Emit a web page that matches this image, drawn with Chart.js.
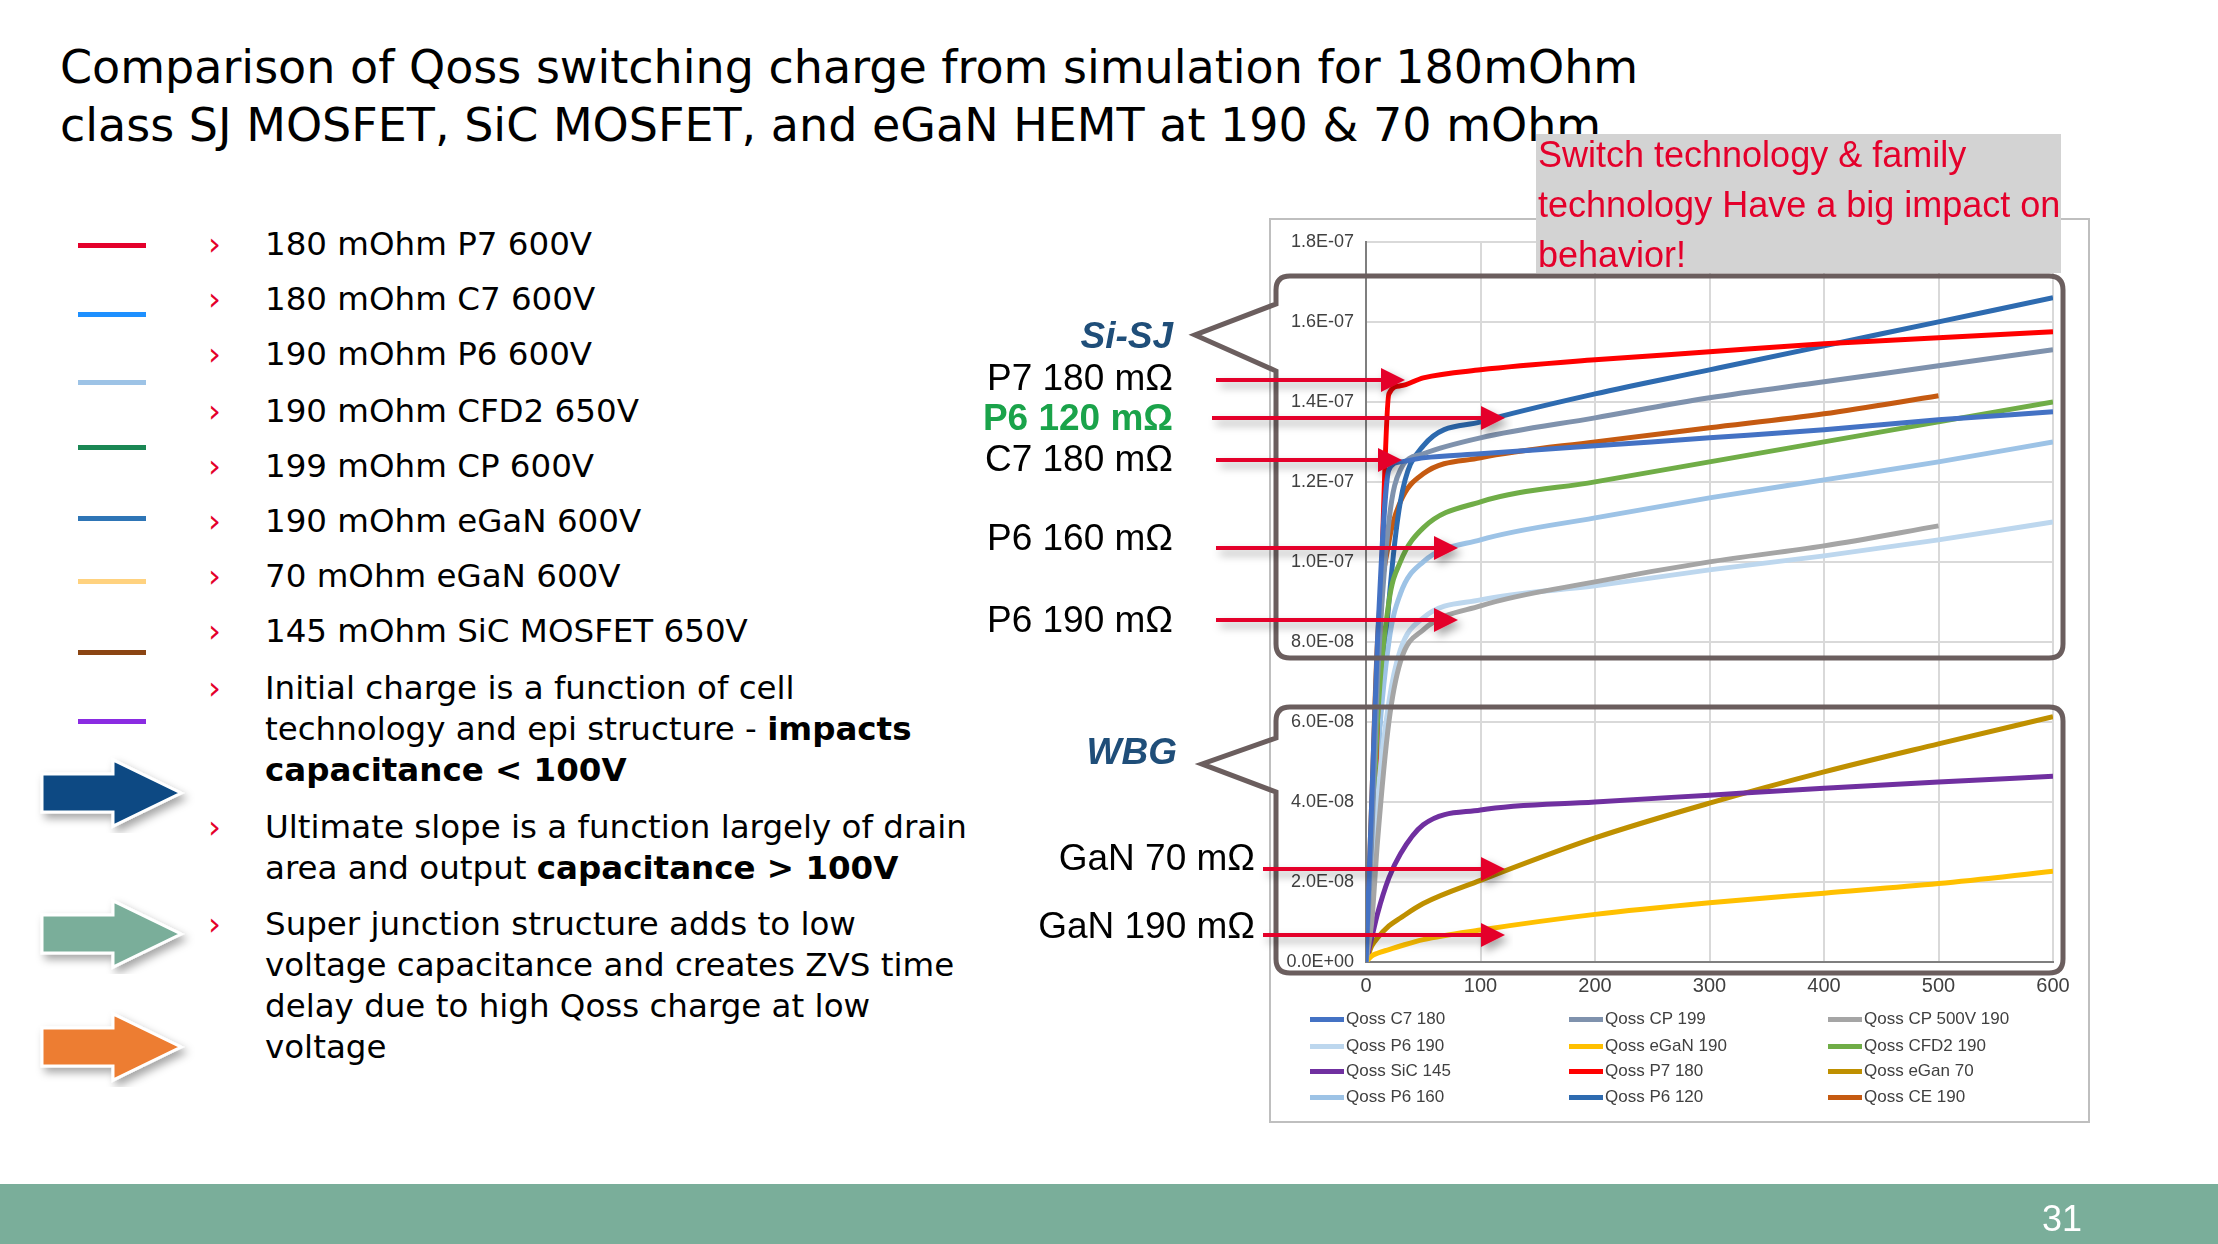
<!DOCTYPE html>
<html><head><meta charset="utf-8">
<script src="https://cdn.jsdelivr.net/npm/chart.js@4.4.0/dist/chart.umd.min.js"></script>
<style>
body{margin:0;width:2218px;height:1244px;background:#fff;position:relative;overflow:hidden;font-family:"DejaVu Sans",sans-serif}
.abs{position:absolute;white-space:nowrap}
.t{font-size:46px;color:#000;left:60px}
.li{font-size:32.5px;left:265px;line-height:41px}
.bu{position:absolute;left:-57px;color:#E4002B}
.lab{font-family:"Liberation Sans",Arial,sans-serif;font-size:37px;text-align:right}
.leg{font-family:"Liberation Sans Narrow","Liberation Sans",sans-serif;font-size:17px;color:#404040;display:flex;align-items:center}
.leg i{display:inline-block;width:34px;height:5px;margin-right:2px}
</style></head><body>
<div class="abs t" style="top:40px">Comparison of Qoss switching charge from simulation for 180mOhm</div>
<div class="abs t" style="top:98px">class SJ MOSFET, SiC MOSFET, and eGaN HEMT at 190 &amp; 70 mOhm</div>
<div id="leftlist"></div>
<svg class="abs" style="left:0;top:0" width="2218" height="1244">
 <defs><filter id="sh"><feDropShadow dx="4" dy="5" stdDeviation="4" flood-opacity="0.35"/></filter>
 <marker id="ah" markerWidth="6" markerHeight="6" refX="1" refY="3" orient="auto" markerUnits="strokeWidth"><path d="M0,0 L6,3 L0,6z" fill="#E4002B"/></marker></defs>
 <rect x="1270" y="219" width="819" height="903" fill="#fff" stroke="#bfbfbf" stroke-width="2"/>
 <g id="bigarrows"></g>
</svg>
<canvas id="c" class="abs" style="left:1270px;top:219px"></canvas>
<svg class="abs" style="left:0;top:0;pointer-events:none" width="2218" height="1244">
 <path d="M1290,276 H2049 Q2063,276 2063,290 V644 Q2063,658 2049,658 H1290 Q1276,658 1276,644 V371 L1195,335 L1276,304 V290 Q1276,276 1290,276z" fill="none" stroke="#6b5e5e" stroke-width="5"/>
 <path d="M1290,707 H2049 Q2063,707 2063,721 V959 Q2063,973 2049,973 H1290 Q1276,973 1276,959 V792 L1202,764 L1276,738 V721 Q1276,707 1290,707z" fill="none" stroke="#6b5e5e" stroke-width="5"/>
 <g stroke="#E4002B" stroke-width="4" marker-end="url(#ah)" filter="url(#sh)">
  <line x1="1216" y1="380" x2="1385" y2="380"/>
  <line x1="1212" y1="418" x2="1485" y2="418"/>
  <line x1="1216" y1="460" x2="1382" y2="460"/>
  <line x1="1216" y1="548" x2="1438" y2="548"/>
  <line x1="1216" y1="620" x2="1438" y2="620"/>
  <line x1="1263" y1="869" x2="1485" y2="869"/>
  <line x1="1263" y1="935" x2="1485" y2="935"/>
 </g>
</svg>
<div class="abs" style="left:1536px;top:134px;width:525px;height:139px;background:#d3d3d3"></div>
<div class="abs" style="left:1538px;top:130px;font-family:'Liberation Sans',sans-serif;font-size:36px;line-height:50px;color:#E4002B">Switch technology &amp; family<br>technology Have a big impact on<br>behavior!</div>
<div class="abs lab" style="right:1045px;top:315px;color:#1F4E79;font-weight:bold;font-style:italic">Si-SJ</div>
<div class="abs lab" style="right:1041px;top:731px;color:#1F4E79;font-weight:bold;font-style:italic">WBG</div>
<div class="abs lab" style="right:1045px;top:357px">P7 180 mΩ</div>
<div class="abs lab" style="right:1045px;top:397px;color:#1AA34A;font-weight:bold">P6 120 mΩ</div>
<div class="abs lab" style="right:1045px;top:438px">C7 180 mΩ</div>
<div class="abs lab" style="right:1045px;top:517px">P6 160 mΩ</div>
<div class="abs lab" style="right:1045px;top:599px">P6 190 mΩ</div>
<div class="abs lab" style="right:963px;top:837px">GaN 70 mΩ</div>
<div class="abs lab" style="right:963px;top:905px">GaN 190 mΩ</div>
<div id="legend"></div>
<div class="abs" style="left:0;top:1184px;width:2218px;height:60px;background:#7AAE9A"></div>
<div class="abs" style="left:2042px;top:1198px;font-size:36px;color:#fff;font-family:'Liberation Sans',sans-serif">31</div>
<script>
// ---- data (units: 1e-8 C) ----
const voltages = [0,5,10,20,30,50,100,200,300,400,500,600];
const qC7_180   = [0,4,8,12.3,12.5,12.6,12.7,12.9,13.1,13.3,13.55,13.75];
const qCP_199   = [0,3,7,11,12.3,12.7,13.1,13.6,14.1,14.5,14.9,15.3];
const qCP500_190= [0,1,3,6,7.5,8.3,8.9,9.5,10.0,10.4,10.9,null];
const qP6_190   = [0,1.5,4,6.5,7.8,8.6,9.05,9.4,9.8,10.15,10.55,11.0];
const qeGaN_190 = [0,0.15,0.22,0.31,0.4,0.56,0.8,1.19,1.48,1.72,1.96,2.27];
const qCFD2_190 = [0,2.5,6,9,10,10.85,11.5,12.0,12.5,13.0,13.5,14.0];
const qSiC_145  = [0,0.6,1.2,2.1,2.7,3.43,3.8,4.0,4.17,4.34,4.5,4.64];
const qP7_180   = [0,2,6,14.2,14.4,14.6,14.8,15.05,15.25,15.45,15.6,15.75];
const qeGaN_70  = [0,0.4,0.6,0.9,1.1,1.46,2.04,3.1,3.97,4.75,5.45,6.13];
const qP6_160   = [0,2,5,8,9.2,10.0,10.55,11.1,11.6,12.05,12.5,13.0];
const qP6_120   = [0,2,5,9,11.5,12.9,13.5,14.2,14.8,15.4,16.0,16.6];
const qCE_190   = [0,4,8,10.5,11.5,12.2,12.6,13.0,13.35,13.7,14.15,null];
const seriesNames = ["Qoss  C7 180","Qoss CP 199","Qoss CP 500V 190","Qoss  P6 190","Qoss eGaN 190","Qoss  CFD2  190","Qoss SiC 145","Qoss  P7  180","Qoss eGan 70","Qoss  P6  160","Qoss P6 120","Qoss CE 190"];
const seriesData = [qC7_180,qCP_199,qCP500_190,qP6_190,qeGaN_190,qCFD2_190,qSiC_145,qP7_180,qeGaN_70,qP6_160,qP6_120,qCE_190];
const seriesColors = ["#4472C4","#7F92AD","#A5A5A5","#BDD7EE","#FFC000","#70AD47","#7030A0","#FF0000","#BF9000","#9DC3E6","#2E6BB0","#C55A11"];
const yTicks = [0,2e-8,4e-8,6e-8,8e-8,1e-7,1.2e-7,1.4e-7,1.6e-7,1.8e-7];
const xTicks = [0,100,200,300,400,500,600];
// left list
const listColors = ["#E4002B","#1E90FF","#9DC3E6","#1A8754","#2E75B6","#FFD27F","#8B4513","#8A2BE2"];
const listLineY = [245,314,382,447,518,581,652,721];
const listItems = [
 [245,"180 mOhm P7 600V"],[300,"180 mOhm C7 600V"],[355,"190 mOhm P6 600V"],[412,"190 mOhm CFD2 650V"],
 [467,"199 mOhm CP 600V"],[522,"190 mOhm eGaN 600V"],[577,"70 mOhm eGaN 600V"],[632,"145 mOhm SiC MOSFET 650V"],
 [689,"Initial charge is a function of cell<br>technology and epi structure - <b>impacts</b><br><b>capacitance &lt; 100V</b>"],
 [828,"Ultimate slope is a function largely of drain<br>area and output <b>capacitance &gt; 100V</b>"],
 [925,"Super junction structure adds to low<br>voltage capacitance and creates ZVS time<br>delay due to high Qoss charge at low<br>voltage"]];
let h="";
listColors.forEach((c,i)=>{h+=`<div class="abs" style="left:78px;top:${listLineY[i]-2}px;width:68px;height:5px;background:${c}"></div>`;});
listItems.forEach(([y,t])=>{h+=`<div class="abs li" style="top:${y-21}px"><span class="bu">›</span>${t}</div>`;});
document.getElementById("leftlist").innerHTML=h;
const ba=[[793,"#0B4A83"],[934,"#7AAE9A"],[1047,"#ED7D31"]];
document.getElementById("bigarrows").innerHTML=ba.map(([y,c])=>`<path filter="url(#sh)" d="M42,${y-19} H113 V${y-33} L181,${y} L113,${y+33} V${y+19} H42z" fill="${c}" stroke="#fff" stroke-width="3"/>`).join("");
const cols=[1310,1569,1828], rows=[1020,1047,1072,1098];
document.getElementById("legend").innerHTML=seriesNames.map((n,i)=>`<div class="abs leg" style="left:${cols[i%3]}px;top:${rows[Math.floor(i/3)]-11}px"><i style="background:${seriesColors[i]}"></i>${n}</div>`).join("");
const cv=document.getElementById("c"); cv.width=819; cv.height=783; cv.style.width="819px"; cv.style.height="783px";
function fmt(v){ if(Math.abs(v)<1e-12) return "0.0E+00"; let s=v.toExponential(1).toUpperCase(); return s.replace(/E([+-])(\d)$/,"E$10$2"); }
new Chart(cv,{type:'line',
 data:{datasets:seriesData.map((d,i)=>({label:seriesNames[i],data:voltages.map((x,j)=>({x:x,y:d[j]==null?null:d[j]*1e-8})),borderColor:seriesColors[i],borderWidth:5,pointRadius:0,cubicInterpolationMode:'monotone',spanGaps:false,fill:false}))},
 options:{responsive:false,animation:false,layout:{padding:{top:17,right:36,left:0,bottom:0}},
  plugins:{legend:{display:false},tooltip:{enabled:false}},
  scales:{
   x:{type:'linear',min:0,max:600,afterBuildTicks:s=>{s.ticks=xTicks.map(v=>({value:v}));},afterFit:s=>{s.height=40;},
      grid:{color:'#d9d9d9',lineWidth:2,drawTicks:false},border:{color:'#7f7f7f',width:2},
      ticks:{padding:12,color:'#404040',font:{family:'Liberation Sans Narrow, Liberation Sans',size:20}}},
   y:{min:0,max:1.8e-7,afterBuildTicks:s=>{s.ticks=yTicks.map(v=>({value:v}));},afterFit:s=>{s.width=96;},
      grid:{color:'#d9d9d9',lineWidth:2,drawTicks:false},border:{color:'#7f7f7f',width:2},
      ticks:{padding:12,color:'#404040',font:{family:'Liberation Sans Narrow, Liberation Sans',size:18},callback:v=>fmt(v)}}
  }}});
</script>
</body></html>
